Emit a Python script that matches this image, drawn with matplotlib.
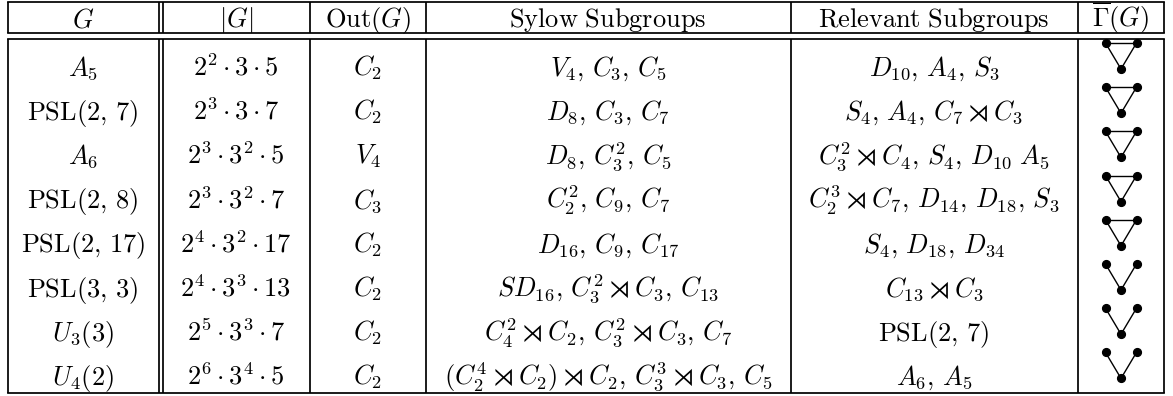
import matplotlib
matplotlib.use("Agg")
import matplotlib.pyplot as plt

plt.rcParams['mathtext.fontset'] = 'cm'
plt.rcParams['font.family'] = ['DejaVu Serif']

# ------------------------------------------------------------------
# table content
# ------------------------------------------------------------------
headers = [r'$G$', r'$|G|$', r'$\mathrm{Out}(G)$', r'$\mathrm{Sylow\ Subgroups}$',
           r'$\mathrm{Relevant\ Subgroups}$', r'$\overline{\Gamma}(G)$']

groups = [r'A_5', r'\mathrm{PSL}(2,\,7)', r'A_6', r'\mathrm{PSL}(2,\,8)',
          r'\mathrm{PSL}(2,\,17)', r'\mathrm{PSL}(3,\,3)', r'U_3(3)', r'U_4(2)']

orders = [r'2^2\cdot3\cdot5', r'2^3\cdot3\cdot7', r'2^3\cdot3^2\cdot5',
          r'2^3\cdot3^2\cdot7', r'2^4\cdot3^2\cdot17', r'2^4\cdot3^3\cdot13',
          r'2^5\cdot3^3\cdot7', r'2^6\cdot3^4\cdot5']

outs = [r'C_2', r'C_2', r'V_4', r'C_3', r'C_2', r'C_2', r'C_2', r'C_2']

sylow = [r'V_4,\,C_3,\,C_5',
         r'D_8,\,C_3,\,C_7',
         r'D_8,\,C_3^2,\,C_5',
         r'C_2^2,\,C_9,\,C_7',
         r'D_{16},\,C_9,\,C_{17}',
         r'SD_{16},\,C_3^2\rtimes C_3,\,C_{13}',
         r'C_4^2\rtimes C_2,\,C_3^2\rtimes C_3,\,C_7',
         r'(C_2^4\rtimes C_2)\rtimes C_2,\,C_3^3\rtimes C_3,\,C_5']

relevant = [r'D_{10},\,A_4,\,S_3',
            r'S_4,\,A_4,\,C_7\rtimes C_3',
            r'C_3^2\rtimes C_4,\,S_4,\,D_{10}\ A_5',
            r'C_2^3\rtimes C_7,\,D_{14},\,D_{18},\,S_3',
            r'S_4,\,D_{18},\,D_{34}',
            r'C_{13}\rtimes C_3',
            r'\mathrm{PSL}(2,\,7)',
            r'A_6,\,A_5']

# complement graph per row: vertices 0 = top left, 1 = top right, 2 = bottom
triangle = [(0, 1), (0, 2), (1, 2)]
vee = [(0, 2), (1, 2)]
gamma_edges = [triangle, triangle, triangle, triangle, triangle, vee, vee, vee]

# ------------------------------------------------------------------
# layout (pixels, y downwards)
# ------------------------------------------------------------------
W, H = 1173, 396
col_lines = [8, 310, 426, 791, 1078, 1164]
double_col = (158.5, 163)
col_centers = [83, 236, 368, 608, 934, 1121]
y_top, y_head, y_body, y_bot = 2, 33, 39, 393
head_base = 27
row_base0, row_step = 75.5, 44.2
fs = 19
lw = 1.25

fig = plt.figure(figsize=(W / 100, H / 100), dpi=100)
ax = fig.add_axes([0, 0, 1, 1])
ax.set_xlim(0, W)
ax.set_ylim(H, 0)
ax.axis('off')

# horizontal rules
for y in [y_top, y_head, y_body, y_bot]:
    ax.plot([col_lines[0], col_lines[-1]], [y, y], color='black', lw=lw,
            solid_capstyle='projecting')

# vertical rules, broken between the two header rules
for x in col_lines + list(double_col):
    ax.plot([x, x], [y_top, y_head], color='black', lw=lw, solid_capstyle='butt')
    ax.plot([x, x], [y_body, y_bot], color='black', lw=lw, solid_capstyle='butt')

# header
for x, h in zip(col_centers, headers):
    ax.text(x, head_base, h, ha='center', va='baseline', fontsize=fs)

# body
columns = [groups, orders, outs, sylow, relevant]
for i in range(len(groups)):
    yb = row_base0 + i * row_step
    for x, col in zip(col_centers, columns):
        ax.text(x, yb, '$' + col[i] + '$', ha='center', va='baseline', fontsize=fs)

    # small graph in last column
    cx = col_centers[-1]
    top = yb - 32.5
    verts = [(cx - 15.5, top), (cx + 15.5, top), (cx, top + 26)]
    for a, b in gamma_edges[i]:
        ax.plot([verts[a][0], verts[b][0]], [verts[a][1], verts[b][1]],
                color='black', lw=1.0)
    ax.plot([v[0] for v in verts], [v[1] for v in verts], 'o', color='black',
            markersize=5.6, linestyle='none')

fig.savefig('out.png', dpi=100)
